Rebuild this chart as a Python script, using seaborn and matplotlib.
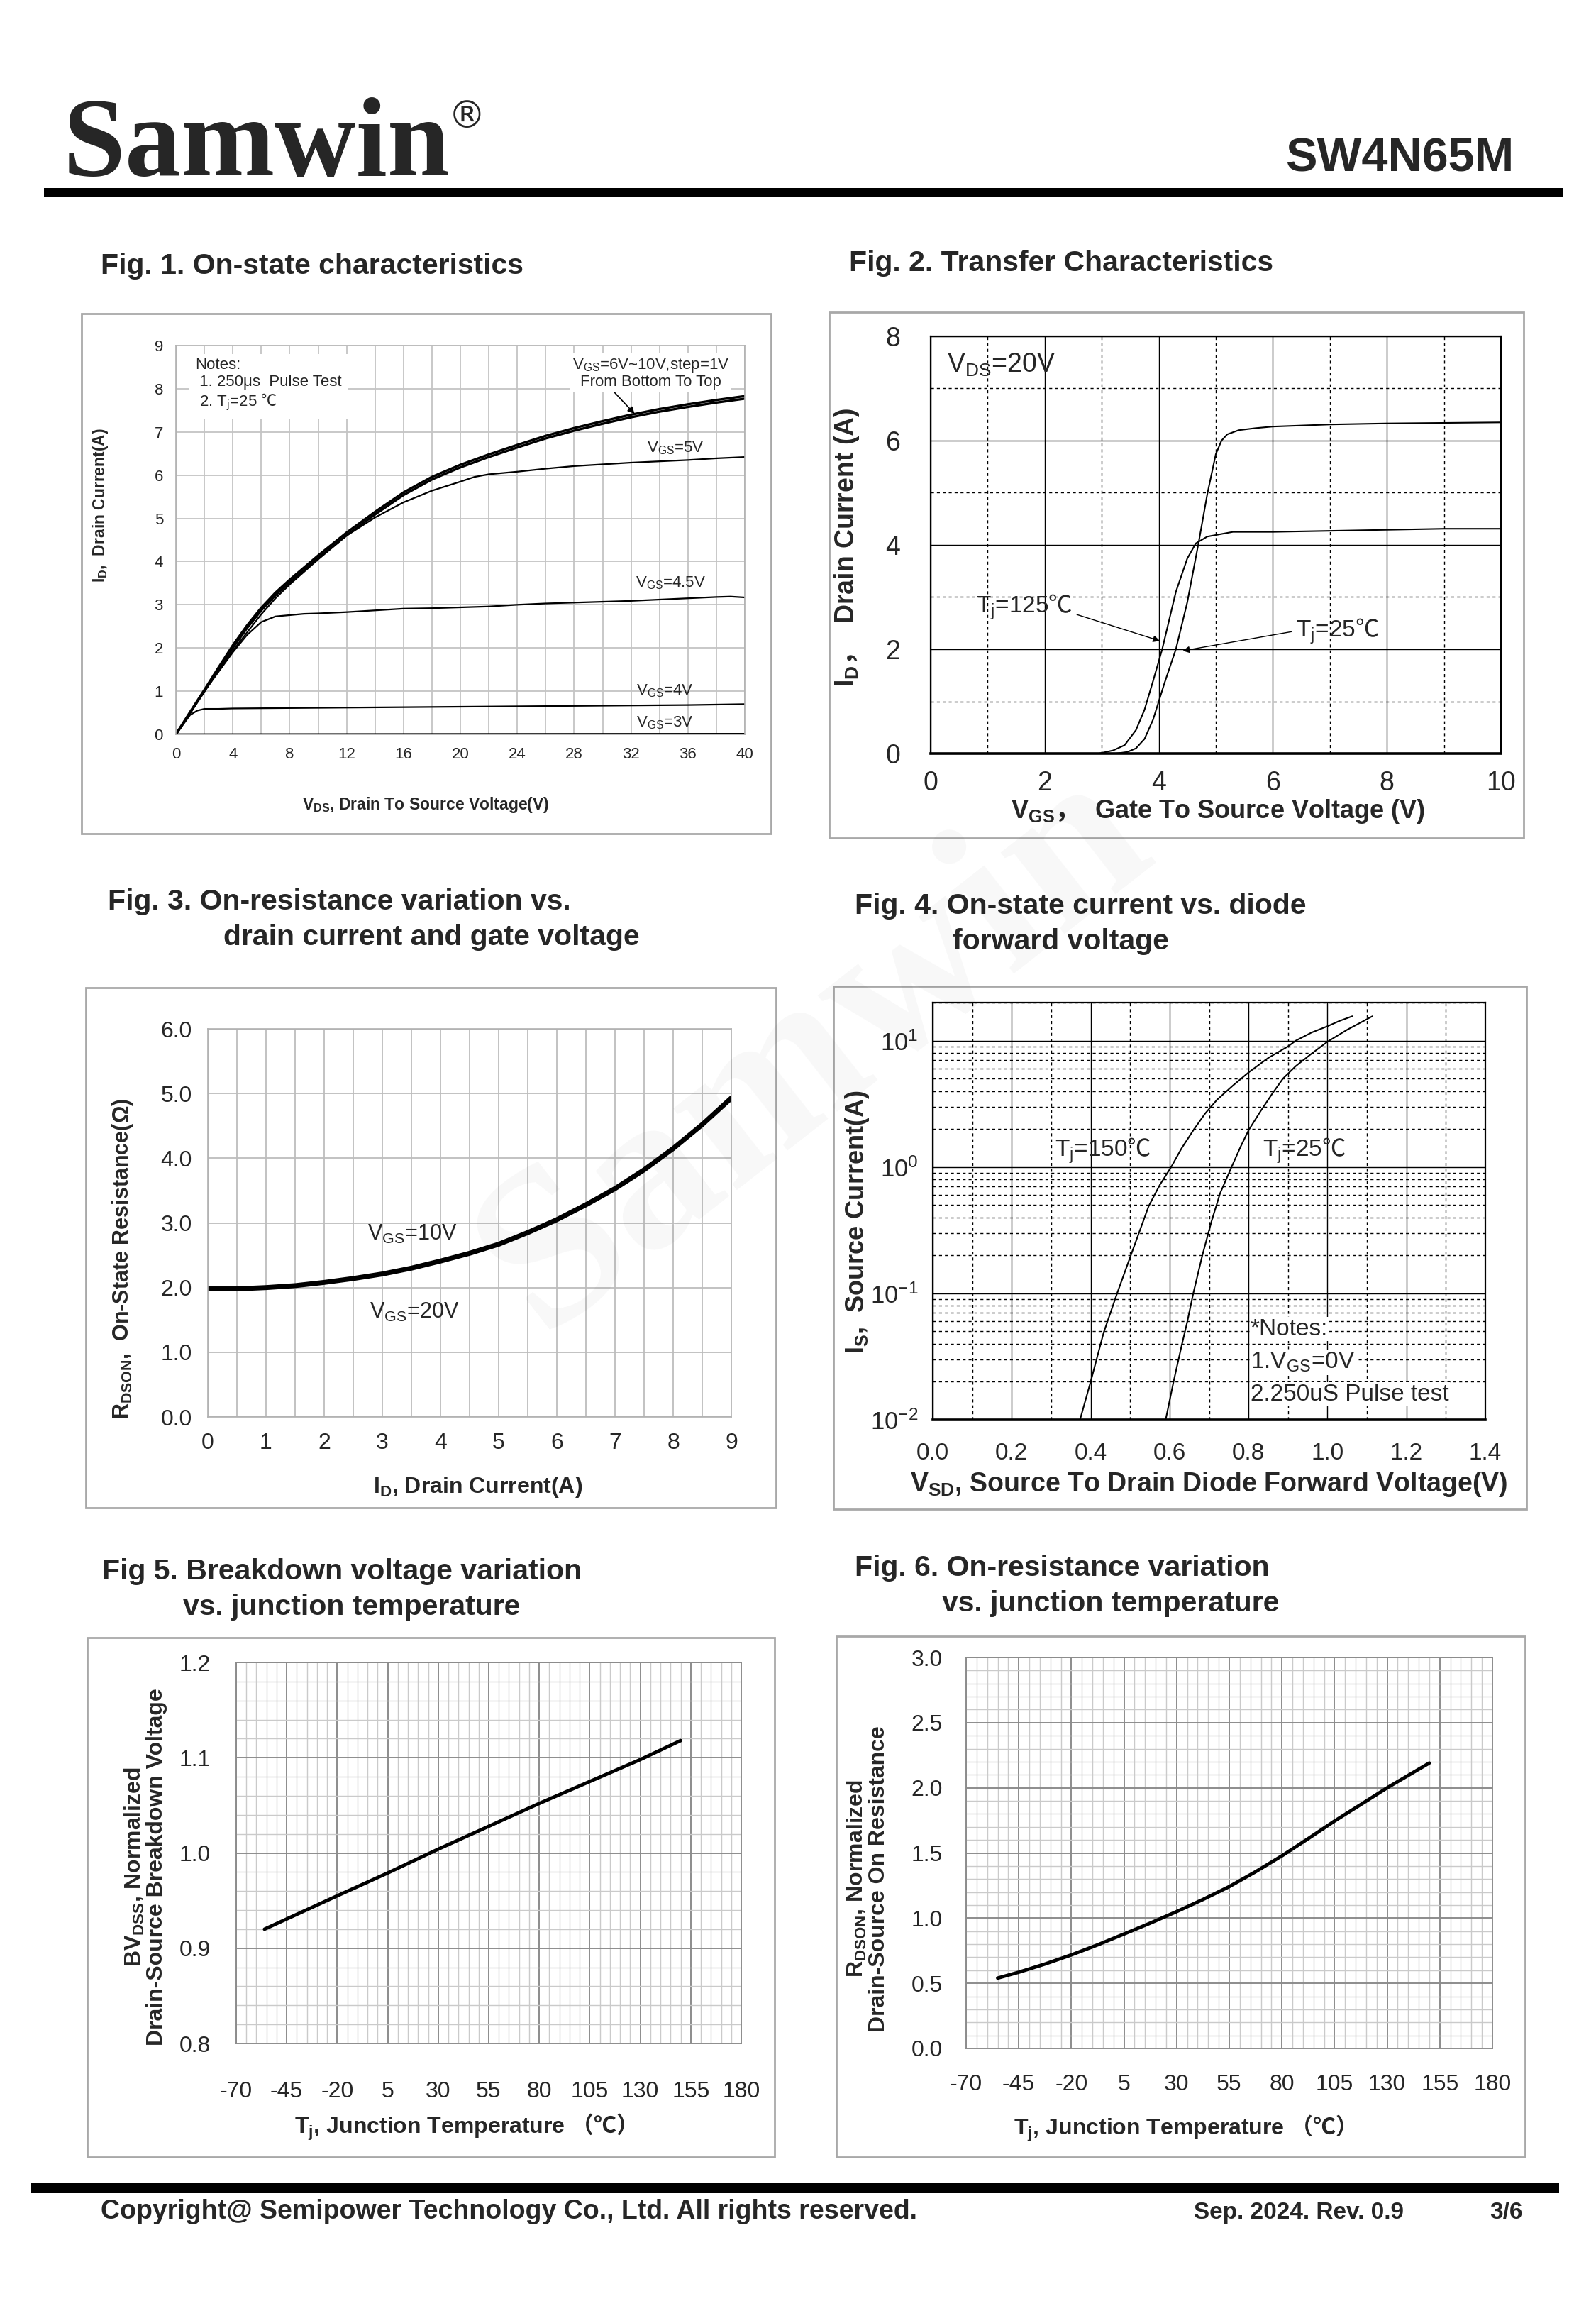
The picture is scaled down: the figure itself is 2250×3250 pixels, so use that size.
import numpy as np
import seaborn as sns
import matplotlib.pyplot as plt
from matplotlib import font_manager
from matplotlib.patches import Rectangle

# ---- Fig 1: on-state characteristics (VDS, ID)
vds_top = [0, 1, 2, 3, 4, 5, 6, 7, 8, 10, 12, 14, 16, 18, 20, 22, 24, 26, 28, 30, 32, 34, 36, 38, 40]
id_vgs10 = [0, 0.52, 1.03, 1.55, 2.06, 2.52, 2.93, 3.28, 3.58, 4.14, 4.67, 5.15, 5.6, 5.96, 6.24, 6.48, 6.7, 6.91, 7.09, 7.25, 7.4, 7.53, 7.64, 7.74, 7.83]
id_vgs6 = [0, 0.5, 1.0, 1.5, 2.0, 2.46, 2.87, 3.22, 3.52, 4.08, 4.61, 5.09, 5.54, 5.9, 6.18, 6.42, 6.64, 6.85, 7.03, 7.19, 7.34, 7.47, 7.58, 7.68, 7.77]
vds_5 = [0, 1, 2, 3, 4, 5, 6, 7, 8, 10, 12, 14, 16, 18, 20, 21, 22, 24, 26, 28, 30, 32, 34, 36, 38, 40]
id_vgs5 = [0, 0.5, 1.0, 1.47, 1.93, 2.36, 2.78, 3.15, 3.47, 4.05, 4.6, 5.02, 5.37, 5.64, 5.85, 5.96, 6.02, 6.08, 6.15, 6.21, 6.25, 6.29, 6.32, 6.35, 6.39, 6.42]
vds_45 = [0, 1, 2, 3, 4, 5, 6, 7, 8, 9, 10, 12, 14, 16, 18, 20, 22, 24, 26, 28, 30, 32, 34, 36, 38, 39, 40]
id_vgs45 = [0, 0.5, 1.0, 1.45, 1.9, 2.3, 2.6, 2.73, 2.76, 2.79, 2.8, 2.83, 2.87, 2.91, 2.92, 2.94, 2.96, 3.0, 3.03, 3.05, 3.07, 3.09, 3.12, 3.15, 3.18, 3.19, 3.17]
vds_4 = [0, 1, 1.5, 2, 3, 4, 8, 12, 16, 20, 24, 28, 32, 36, 40]
id_vgs4 = [0, 0.45, 0.55, 0.59, 0.59, 0.6, 0.61, 0.62, 0.63, 0.64, 0.65, 0.66, 0.67, 0.68, 0.7]
vds_3 = [0, 40]
id_vgs3 = [0, 0.01]

# ---- Fig 2: transfer characteristics (VGS, ID)
vgs_25 = [3.25, 3.45, 3.6, 3.75, 3.9, 4.1, 4.3, 4.5, 4.7, 4.85, 5.0, 5.1, 5.2, 5.4, 5.7, 6.0, 7.0, 8.0, 9.0, 10.0]
id_25 = [0.0, 0.03, 0.1, 0.28, 0.65, 1.35, 2.0, 2.9, 4.05, 4.97, 5.74, 6.0, 6.12, 6.2, 6.24, 6.27, 6.31, 6.33, 6.34, 6.35]
vgs_125 = [2.95, 3.2, 3.4, 3.6, 3.75, 3.9, 4.06, 4.3, 4.5, 4.65, 4.85, 5.3, 6.0, 7.0, 8.0, 9.0, 10.0]
id_125 = [0.0, 0.06, 0.16, 0.45, 0.84, 1.39, 2.0, 3.1, 3.74, 4.03, 4.16, 4.25, 4.25, 4.27, 4.29, 4.31, 4.31]

# ---- Fig 3: RDSON vs ID
id3 = [0, 0.5, 1, 1.5, 2, 2.5, 3, 3.5, 4, 4.5, 5, 5.5, 6, 6.5, 7, 7.5, 8, 8.5, 9]
rds3 = [1.98, 1.98, 2.0, 2.03, 2.08, 2.14, 2.21, 2.3, 2.41, 2.53, 2.67, 2.85, 3.05, 3.28, 3.53, 3.82, 4.15, 4.52, 4.93]

# ---- Fig 4: body diode (VSD, IS)
vsd_150 = [0.373, 0.40, 0.433, 0.467, 0.50, 0.547, 0.575, 0.604, 0.63, 0.66, 0.69, 0.72, 0.76, 0.80, 0.85, 0.90, 0.92, 0.96, 1.0, 1.03, 1.063]
is_150 = [0.01, 0.02, 0.049, 0.1, 0.193, 0.49, 0.72, 1.0, 1.4, 1.95, 2.65, 3.4, 4.4, 5.6, 7.3, 9.0, 10.0, 11.6, 13.0, 14.3, 15.6]
vsd_25 = [0.59, 0.61, 0.63, 0.645, 0.66, 0.683, 0.706, 0.728, 0.757, 0.78, 0.80, 0.83, 0.86, 0.887, 0.92, 0.96, 1.0, 1.05, 1.114]
is_25 = [0.01, 0.02, 0.038, 0.06, 0.1, 0.2, 0.37, 0.62, 1.0, 1.45, 1.95, 2.75, 3.8, 5.0, 6.3, 7.9, 9.8, 12.2, 15.6]

# ---- Fig 5 / Fig 6: vs junction temperature
tj5 = [-56, -20, 5, 30, 55, 80, 105, 130, 150]
bv5 = [0.92, 0.955, 0.979, 1.004, 1.028, 1.052, 1.075, 1.098, 1.118]
tj6 = [-55, -45, -32.5, -20, -7.5, 5, 17.5, 30, 42.5, 55, 67.5, 80, 92.5, 105, 117.5, 130, 140, 150]
rn6 = [0.54, 0.585, 0.648, 0.718, 0.795, 0.878, 0.962, 1.05, 1.143, 1.242, 1.356, 1.478, 1.61, 1.745, 1.872, 2.0, 2.095, 2.19]
tj_ticks = [-70, -45, -20, 5, 30, 55, 80, 105, 130, 155, 180]

sns.set_style("white")
names = {f.name for f in font_manager.fontManager.ttflist}
NARROW = 'Liberation Sans Narrow' if 'Liberation Sans Narrow' in names else 'Liberation Sans'
FAM = ['Liberation Sans', 'DejaVu Sans', 'Noto Sans CJK SC']
NFAM = [NARROW, 'DejaVu Sans', 'Noto Sans CJK SC']
plt.rcParams['font.family'] = FAM
plt.rcParams['mathtext.fontset'] = 'custom'
# \mathrm / \mathbf carry the CJK font so that ℃ and full-width signs have glyphs
plt.rcParams['mathtext.rm'] = 'Noto Sans CJK SC'
plt.rcParams['mathtext.bf'] = 'Noto Sans CJK SC:bold'
plt.rcParams['mathtext.it'] = 'Liberation Sans:italic'
plt.rcParams['mathtext.default'] = 'regular'

W, H = 2250, 3250
fig = plt.figure(figsize=(22.5, 32.5), dpi=100)


def fx(px):
    return px / W


def fy(py):
    return 1 - py / H


def add_ax(x0, y0, x1, y1):
    return fig.add_axes([fx(x0), fy(y1), (x1 - x0) / W, (y1 - y0) / H])


def box(x0, y0, x1, y1, color='#a8a8a8', lw=2.0, fill=False):
    fig.patches.append(Rectangle((fx(x0), fy(y1)), (x1 - x0) / W, (y1 - y0) / H,
                                 transform=fig.transFigure, fill=fill,
                                 fc=color, ec=color, lw=lw, zorder=1))


def line(ax, x, y, lw):
    sns.lineplot(x=x, y=y, ax=ax, color='black', linewidth=lw, estimator=None, sort=False)


def spines(ax, color, lw=1.2):
    for s in ax.spines.values():
        s.set_color(color)
        s.set_linewidth(lw)
        s.set_visible(True)


def ax_text(ax, x, y, s, **kw):
    ax.text(x, y, s, transform=ax.transAxes, ha='center', va='center', **kw)


DEG = r'$\mathrm{℃}$'

# ---------------- header / footer
fig.text(fx(89), fy(247), 'Samwin', family='Liberation Serif', weight='bold', size=114, va='baseline')
fig.text(fx(632), fy(180), '®', family='DejaVu Sans', size=38, va='baseline')
fig.text(fx(2134), fy(224), 'SW4N65M', family=FAM, weight='bold', size=48, ha='right', va='center')
box(62, 265, 2203, 277, color='black', lw=0, fill=True)
box(44, 3077, 2198, 3091, color='black', lw=0, fill=True)
fig.text(fx(142), fy(3117), 'Copyright@ Semipower Technology Co., Ltd. All rights reserved.',
         family=NFAM, weight='bold', size=27, va='center')
fig.text(fx(1683), fy(3119), 'Sep. 2024. Rev. 0.9', family=NFAM, weight='bold', size=24, va='center')
fig.text(fx(2100), fy(3119), '3/6', family=NFAM, weight='bold', size=24, va='center')

# panel titles
tkw = dict(weight='bold', size=29.5, va='center', ha='left')
fig.text(fx(142), fy(375), 'Fig. 1. On-state characteristics', **tkw)
fig.text(fx(1197), fy(371), 'Fig. 2. Transfer Characteristics', **tkw)
fig.text(fx(152), fy(1271), 'Fig. 3. On-resistance variation vs.', **tkw)
fig.text(fx(315), fy(1321), 'drain current and gate voltage', **tkw)
fig.text(fx(1205), fy(1277), 'Fig. 4. On-state current vs. diode', **tkw)
fig.text(fx(1343), fy(1327), 'forward voltage', **tkw)
fig.text(fx(144), fy(2215), 'Fig 5. Breakdown voltage variation', **tkw)
fig.text(fx(258), fy(2265), 'vs. junction temperature', **tkw)
fig.text(fx(1205), fy(2210), 'Fig. 6. On-resistance variation', **tkw)
fig.text(fx(1328), fy(2260), 'vs. junction temperature', **tkw)

# panel frames
box(115, 442, 1087, 1175)
box(1169, 440, 2148, 1181)
box(121, 1392, 1094, 2125)
box(1175, 1390, 2152, 2127)
box(123, 2308, 1092, 3040)
box(1179, 2306, 2150, 3040)

# ---------------- Fig 1
ax1 = add_ax(248, 487, 1050, 1035)
line(ax1, vds_top, id_vgs10, 2.4)
line(ax1, vds_top, id_vgs6, 2.4)
line(ax1, vds_5, id_vgs5, 1.6)
line(ax1, vds_45, id_vgs45, 1.6)
line(ax1, vds_4, id_vgs4, 1.6)
line(ax1, vds_3, id_vgs3, 2.0)
ax1.set_xlim(0, 40)
ax1.set_ylim(0, 9)
xt = list(range(0, 41, 4))
ax1.set_xticks(xt, [str(v) for v in xt], fontsize=16)
ax1.set_xticks(range(0, 41, 2), minor=True)
ax1.set_yticks(range(0, 10), [str(v) for v in range(0, 10)], fontsize=16)
ax1.grid(which='both', color='#c4c4c4', lw=1.3)
ax1.tick_params(which='both', length=4, color='#999999', pad=9)
spines(ax1, '#b0b0b0')
ax1.text(1.35, 8.72, 'Notes:\n 1. 250μs  Pulse Test\n 2. T$_j$=25 ' + DEG, fontsize=16, va='top', ha='left',
         linespacing=1.2, bbox=dict(fc='white', ec='none', pad=6))
ax1.annotate('V$_{GS}$=6V~10V,step=1V\nFrom Bottom To Top', xy=(32.25, 7.42), xytext=(33.4, 8.36),
             fontsize=16, ha='center', va='center', linespacing=1.05,
             bbox=dict(fc='white', ec='none', pad=2),
             arrowprops=dict(arrowstyle='-|>', color='black', lw=1.2, mutation_scale=14,
                             shrinkA=0, shrinkB=0, relpos=(0.25, 0.0)))
ax1.text(35.1, 6.62, 'V$_{GS}$=5V', fontsize=16, ha='center', va='center')
ax1.text(34.8, 3.5, 'V$_{GS}$=4.5V', fontsize=16, ha='center', va='center')
ax1.text(34.35, 1.01, 'V$_{GS}$=4V', fontsize=16, ha='center', va='center')
ax1.text(34.35, 0.27, 'V$_{GS}$=3V', fontsize=16, ha='center', va='center')
ax_text(ax1, -0.133, 0.59, 'I$_D$,  Drain Current(A)', rotation=90, fontsize=16.5, weight='bold')
ax_text(ax1, 0.439, -0.182, 'V$_{DS}$, Drain To Source Voltage(V)', fontsize=16.5, weight='bold')

# ---------------- Fig 2
ax2 = add_ax(1312, 474, 2116, 1062)
line(ax2, vgs_25, id_25, 1.5)
line(ax2, vgs_125, id_125, 1.5)
ax2.set_xlim(0, 10)
ax2.set_ylim(0, 8)
ax2.set_xticks(range(0, 11, 2), [str(v) for v in range(0, 11, 2)], fontsize=27, family=NFAM)
ax2.set_xticks(range(0, 11), minor=True)
ax2.set_yticks(range(0, 9, 2), [str(v) for v in range(0, 9, 2)], fontsize=27, family=NFAM)
ax2.set_yticks(range(0, 9), minor=True)
ax2.grid(which='major', color='black', lw=1.0)
ax2.grid(which='minor', color='black', lw=1.0, ls=(0, (3, 3)))
ax2.tick_params(which='both', direction='out', length=9, width=1.2, color='black', pad=8)
ax2.tick_params(axis='y', which='both', pad=22)
spines(ax2, 'black', 1.6)
ax2.spines['bottom'].set_linewidth(2.6)
ax2.text(0.28, 7.45, 'V$_{DS}$=20V', fontsize=27, family=NFAM, ha='left', va='center')
ax2.annotate('T$_j$=125' + DEG, xy=(4.02, 2.16), xytext=(0.8, 2.8), fontsize=24, family=NFAM,
             ha='left', va='center',
             arrowprops=dict(arrowstyle='-|>', color='black', lw=1.0, mutation_scale=14,
                             shrinkA=2, shrinkB=0, relpos=(1.0, 0.3)))
ax2.annotate('T$_j$=25' + DEG, xy=(4.42, 1.97), xytext=(6.4, 2.35), fontsize=24, family=NFAM,
             ha='left', va='center',
             arrowprops=dict(arrowstyle='-|>', color='black', lw=1.0, mutation_scale=14,
                             shrinkA=2, shrinkB=0, relpos=(0.0, 0.5)))
ax_text(ax2, -0.147, 0.495, r'I$_D\mathbf{，}$  Drain Current (A)', rotation=90, fontsize=27, weight='bold')
ax_text(ax2, 0.504, -0.139, r'V$_{GS}\mathbf{，}$  Gate To Source Voltage (V)', fontsize=26, weight='bold')

# ---------------- Fig 3
ax3 = add_ax(293, 1450, 1031, 1997)
line(ax3, id3, rds3, 5.0)
ax3.set_xlim(0, 9)
ax3.set_ylim(0, 6)
ax3.set_xticks(range(0, 10), [str(v) for v in range(0, 10)], fontsize=23, family=NFAM)
ax3.set_xticks(np.arange(0, 9.01, 0.5), minor=True)
ax3.set_yticks(range(0, 7), ['%.1f' % v for v in range(0, 7)], fontsize=23, family=NFAM)
ax3.grid(which='both', color='#bdbdbd', lw=1.3)
ax3.tick_params(which='both', direction='out', length=6, color='#999999', pad=10)
spines(ax3, '#b0b0b0')
ax3.text(2.74, 2.82, 'V$_{GS}$=10V', fontsize=22, family=NFAM, ha='left', va='center')
ax3.text(2.78, 1.62, 'V$_{GS}$=20V', fontsize=22, family=NFAM, ha='left', va='center')
ax_text(ax3, -0.163, 0.408, 'R$_{DSON}$,  On-State Resistance(Ω)', rotation=90, fontsize=22, weight='bold')
ax_text(ax3, 0.515, -0.181, 'I$_D$, Drain Current(A)', fontsize=23, weight='bold', family=NFAM)

# ---------------- Fig 4
ax4 = add_ax(1315, 1413, 2094, 2001)
ax4.set_yscale('log')
line(ax4, vsd_150, is_150, 1.5)
line(ax4, vsd_25, is_25, 1.5)
ax4.set_xlim(0, 1.4)
ax4.set_ylim(0.01, 20)
xt4 = np.arange(0, 1.41, 0.2)
ax4.set_xticks(xt4, ['%.1f' % v for v in xt4], fontsize=24)
ax4.set_xticks(np.arange(0, 1.41, 0.1), minor=True)
ax4.set_yticks([0.01, 0.1, 1, 10], ['$10^{-2}$', '$10^{-1}$', '$10^{0}$', '$10^{1}$'], fontsize=25)
minor_y = [m * 10.0 ** e for e in range(-2, 2) for m in range(2, 10) if m * 10.0 ** e <= 20]
ax4.set_yticks(minor_y, minor=True)
ax4.set_yticklabels([], minor=True)
ax4.grid(which='major', color='black', lw=1.0)
ax4.grid(which='minor', color='black', lw=1.0, ls=(0, (3, 3)))
ax4.tick_params(which='major', direction='out', length=11, width=1.4, color='black', pad=12)
ax4.tick_params(axis='y', which='major', pad=4)
ax4.tick_params(axis='y', which='minor', length=0)
ax4.tick_params(axis='x', which='minor', direction='out', length=11, width=1.4)
spines(ax4, 'black', 1.6)
ax4.spines['bottom'].set_linewidth(2.6)
ax4.text(0.31, 1.35, 'T$_j$=150' + DEG, fontsize=24, family=NFAM, ha='left', va='center')
ax4.text(0.836, 1.35, 'T$_j$=25' + DEG, fontsize=24, family=NFAM, ha='left', va='center')
for yv, s in [(0.0523, '*Notes:'), (0.0285, '1.V$_{GS}$=0V'), (0.0159, '2.250uS Pulse test')]:
    ax4.text(0.805, yv, s, fontsize=24, ha='left', va='center',
             bbox=dict(fc='white', ec='none', pad=1))
ax_text(ax4, -0.137, 0.474, 'I$_S$,  Source Current(A)', rotation=90, fontsize=26, weight='bold')
ax_text(ax4, 0.50, -0.155, 'V$_{SD}$, Source To Drain Diode Forward Voltage(V)', fontsize=27, weight='bold')


# ---------------- Fig 5 / Fig 6 (fine graph paper grid)
def temp_axes(ax, yticks, yminor, fmt, ypad, xpad):
    ax.set_xlim(-70, 180)
    ax.set_xticks(tj_ticks, [str(v) for v in tj_ticks], fontsize=23, family=NFAM)
    ax.set_xticks(np.arange(-70, 181, 5), minor=True)
    ax.set_yticks(yticks, [fmt % v for v in yticks], fontsize=23, family=NFAM)
    ax.set_yticks(yminor, minor=True)
    ax.grid(which='major', color='#8c8c8c', lw=1.4)
    ax.grid(which='minor', color='#cacaca', lw=1.0)
    ax.tick_params(axis='x', which='major', direction='out', length=12, color='#8c8c8c', width=1.4, pad=xpad)
    ax.tick_params(axis='x', which='minor', length=0)
    ax.tick_params(axis='y', which='both', length=0, pad=ypad)
    spines(ax, '#8c8c8c', 1.4)


TJ_LABEL = r'T$_j$, Junction Temperature $\mathbf{（℃）}$'

ax5 = add_ax(333, 2343, 1045, 2880)
line(ax5, tj5, bv5, 3.5)
ax5.set_ylim(0.8, 1.2)
temp_axes(ax5, [0.8, 0.9, 1.0, 1.1, 1.2], np.arange(0.8, 1.2001, 0.02), '%.1f', 26, 26)
ax_text(ax5, -0.18, 0.464, 'BV$_{DSS}$, Normalized\nDrain-Source Breakdown Voltage', rotation=90,
        fontsize=23, weight='bold', linespacing=1.0)
ax_text(ax5, 0.442, -0.22, TJ_LABEL, fontsize=23, weight='bold', family=NFAM)

ax6 = add_ax(1362, 2336, 2104, 2887)
line(ax6, tj6, rn6, 3.5)
ax6.set_ylim(0, 3.0)
temp_axes(ax6, [0, 0.5, 1.0, 1.5, 2.0, 2.5, 3.0], np.arange(0, 3.001, 0.1), '%.1f', 24, 14)
ax_text(ax6, -0.187, 0.434, 'R$_{DSON}$, Normalized\nDrain-Source On Resistance', rotation=90,
        fontsize=23, weight='bold', linespacing=1.0)
ax_text(ax6, 0.404, -0.205, TJ_LABEL, fontsize=23, weight='bold', family=NFAM)

# faint watermark
fig.text(fx(1150), fy(1480), 'Samwin', family='Liberation Serif', weight='bold', size=230,
         rotation=38, color='black', alpha=0.03, ha='center', va='center', zorder=10)

fig.savefig('out.png', dpi=100, facecolor='white')
